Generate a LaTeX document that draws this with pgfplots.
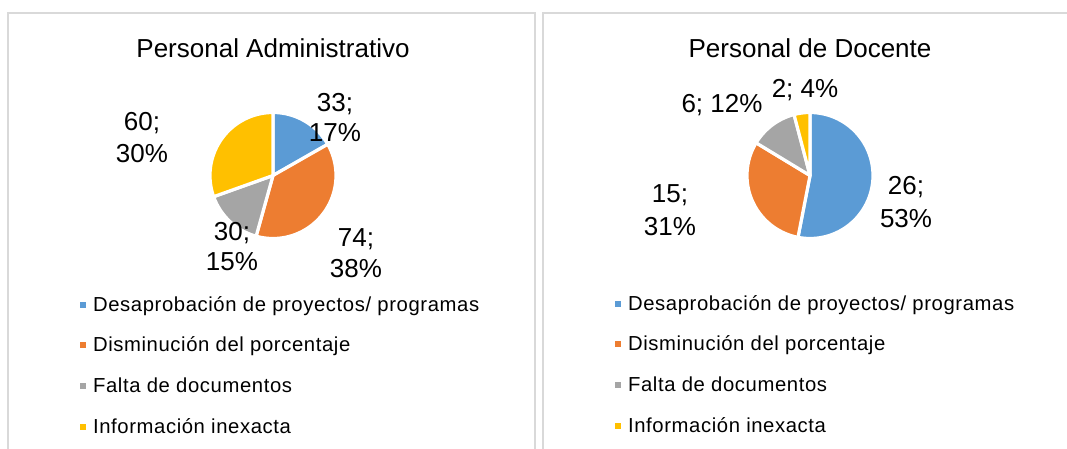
\documentclass[border=0pt]{standalone}
\usepackage{fontspec}
\setmainfont{Liberation Sans}
\newfontfamily\legfont[LetterSpace=3]{Liberation Sans}
\usepackage{pgfplots}
\pgfplotsset{compat=1.18}
\definecolor{cblue}{HTML}{5B9BD5}
\definecolor{corange}{HTML}{ED7D31}
\definecolor{cgray}{HTML}{A5A5A5}
\definecolor{cyellow}{HTML}{FFC000}
\definecolor{cframe}{HTML}{D9D9D9}
% data
\def\AdA{33}\def\AdB{74}\def\AdC{30}\def\AdD{60}
\def\DoA{26}\def\DoB{15}\def\DoC{6}\def\DoD{2}
\pgfmathsetmacro\AdT{\AdA+\AdB+\AdC+\AdD}
\pgfmathsetmacro\AdU{360/\AdT}
\pgfmathsetmacro\aA{90-\AdU*\AdA}
\pgfmathsetmacro\aB{90-\AdU*(\AdA+\AdB)}
\pgfmathsetmacro\aC{90-\AdU*(\AdA+\AdB+\AdC)}
\pgfmathsetmacro\DoT{\DoA+\DoB+\DoC+\DoD}
\pgfmathsetmacro\DoU{360/\DoT}
\pgfmathsetmacro\dA{90-\DoU*\DoA}
\pgfmathsetmacro\dB{90-\DoU*(\DoA+\DoB)}
\pgfmathsetmacro\dC{90-\DoU*(\DoA+\DoB+\DoC)}
\newcommand\bigf{\fontsize{19.5}{23}\selectfont}
\pgfplotsset{
  panel/.style={
    scale only axis, width=800.25pt, height=336.75pt,
    xmin=0, xmax=1067, ymin=0, ymax=449, y dir=reverse,
    hide axis, clip=false,
    legend cell align=left,
    legend image code/.code={\fill[##1, draw=none] (0pt,2.5pt) rectangle (4.6pt,7.1pt);},
    legend style={draw=none, fill=none, anchor=north west, inner sep=0pt, outer sep=0pt,
      font=\legfont\fontsize{15.2}{18}\selectfont, row sep=16.6pt, column sep=5.2pt,
      nodes={inner sep=0pt, outer sep=0pt, text height=10.9pt, text depth=3pt, anchor=base west}},
  },
  wedge/.style={draw=white, line width=2.4pt, line join=round, samples=60, variable=\t},
}
\begin{document}
\begin{tikzpicture}
\useasboundingbox (0,0) rectangle (800.25pt,336.75pt);
% ---------------- left panel
\begin{axis}[panel, legend style={at={(axis cs:80,296.5)}}]
\addplot[wedge, fill=cblue, domain=90:\aA] ({273+63*cos(\t)},{175.5-63*sin(\t)}) -- (axis cs:273,175.5) -- cycle;
\addplot[wedge, fill=corange, domain=\aA:\aB] ({273+63*cos(\t)},{175.5-63*sin(\t)}) -- (axis cs:273,175.5) -- cycle;
\addplot[wedge, fill=cgray, domain=\aB:\aC] ({273+63*cos(\t)},{175.5-63*sin(\t)}) -- (axis cs:273,175.5) -- cycle;
\addplot[wedge, fill=cyellow, domain=\aC:-270] ({273+63*cos(\t)},{175.5-63*sin(\t)}) -- (axis cs:273,175.5) -- cycle;
\legend{Desaprobación de proyectos/ programas, Disminución del porcentaje, Falta de documentos, Información inexacta}
\draw[cframe, line width=1.5pt] (axis cs:7.5,449) -- (axis cs:7.5,13) -- (axis cs:535,13) -- (axis cs:535,449);
\node[anchor=base, inner sep=0pt, font=\bigf] at (axis cs:273,58) {Personal Administrativo};
\node[anchor=base, inner sep=0pt, font=\bigf] at (axis cs:335,112) {33;};
\node[anchor=base, inner sep=0pt, font=\bigf] at (axis cs:335,142) {17\%};
\node[anchor=base, inner sep=0pt, font=\bigf] at (axis cs:356,246) {74;};
\node[anchor=base, inner sep=0pt, font=\bigf] at (axis cs:356,277) {38\%};
\node[anchor=base, inner sep=0pt, font=\bigf] at (axis cs:232,240) {30;};
\node[anchor=base, inner sep=0pt, font=\bigf] at (axis cs:232,270) {15\%};
\node[anchor=base, inner sep=0pt, font=\bigf] at (axis cs:142,131) {60;};
\node[anchor=base, inner sep=0pt, font=\bigf] at (axis cs:142,163) {30\%};
\end{axis}
% ---------------- right panel
\begin{axis}[panel, legend style={at={(axis cs:615,295.5)}}]
\addplot[wedge, fill=cblue, domain=90:\dA] ({810+63*cos(\t)},{175.5-63*sin(\t)}) -- (axis cs:810,175.5) -- cycle;
\addplot[wedge, fill=corange, domain=\dA:\dB] ({810+63*cos(\t)},{175.5-63*sin(\t)}) -- (axis cs:810,175.5) -- cycle;
\addplot[wedge, fill=cgray, domain=\dB:\dC] ({810+63*cos(\t)},{175.5-63*sin(\t)}) -- (axis cs:810,175.5) -- cycle;
\addplot[wedge, fill=cyellow, domain=\dC:-270] ({810+63*cos(\t)},{175.5-63*sin(\t)}) -- (axis cs:810,175.5) -- cycle;
\legend{Desaprobación de proyectos/ programas, Disminución del porcentaje, Falta de documentos, Información inexacta}
\draw[cframe, line width=1.5pt] (axis cs:543,449) -- (axis cs:543,13) -- (axis cs:1067,13);
\node[anchor=base, inner sep=0pt, font=\bigf] at (axis cs:810,58) {Personal de Docente};
\node[anchor=base, inner sep=0pt, font=\bigf] at (axis cs:722,113) {6; 12\%};
\node[anchor=base, inner sep=0pt, font=\bigf] at (axis cs:805,98) {2; 4\%};
\node[anchor=base, inner sep=0pt, font=\bigf] at (axis cs:906,195) {26;};
\node[anchor=base, inner sep=0pt, font=\bigf] at (axis cs:906,227) {53\%};
\node[anchor=base, inner sep=0pt, font=\bigf] at (axis cs:670,202) {15;};
\node[anchor=base, inner sep=0pt, font=\bigf] at (axis cs:670,235) {31\%};
\end{axis}
\end{tikzpicture}
\end{document}
